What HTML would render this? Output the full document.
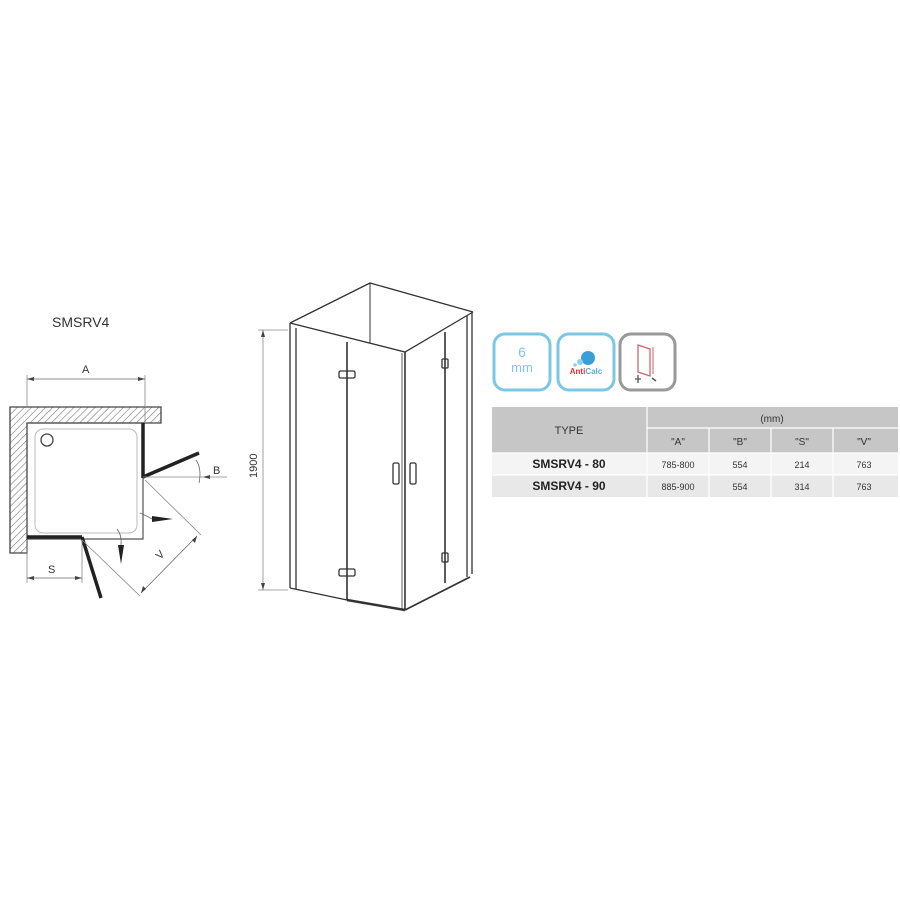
<!DOCTYPE html>
<html><head><meta charset="utf-8"><style>
html,body{margin:0;padding:0;background:#fff;}
svg{display:block}
text{font-family:"Liberation Sans",Arial,sans-serif;}
</style></head><body>
<svg width="900" height="900" viewBox="0 0 900 900" xmlns="http://www.w3.org/2000/svg">
<defs>
<pattern id="h" width="5" height="5" patternUnits="userSpaceOnUse" patternTransform="rotate(45)">
<rect width="5" height="5" fill="#fff"/><line x1="0" y1="0" x2="0" y2="5" stroke="#777" stroke-width="1.2"/>
</pattern>
</defs>
<text x="52" y="327" font-size="14" fill="#333">SMSRV4</text>
<path d="M10 407 H161 V423 H27 V553 H10 Z" fill="url(#h)" stroke="#444" stroke-width="1.3"/>
<path d="M27 423 H143 V539 H27" fill="none" stroke="#555" stroke-width="1.2"/>
<rect x="35" y="429" width="102" height="104" rx="8" fill="none" stroke="#bbb" stroke-width="1"/>
<circle cx="47" cy="440" r="6" fill="none" stroke="#444" stroke-width="1.3"/>
<line x1="143" y1="423" x2="143" y2="478" stroke="#222" stroke-width="3.5"/>
<line x1="143" y1="477" x2="199" y2="453" stroke="#222" stroke-width="3.5"/>
<line x1="27" y1="537" x2="82" y2="537" stroke="#222" stroke-width="3.5"/>
<line x1="82" y1="537" x2="101" y2="598" stroke="#222" stroke-width="3.5"/>
<line x1="27" y1="375" x2="27" y2="407" stroke="#888" stroke-width="0.8"/>
<line x1="145" y1="375" x2="145" y2="423" stroke="#888" stroke-width="0.8"/>
<line x1="27" y1="379" x2="145" y2="379" stroke="#666" stroke-width="0.8"/>
<path d="M27 379 l7 -2 v4 Z M145 379 l-7 -2 v4 Z" fill="#444"/>
<text x="82" y="373" font-size="11" fill="#333">A</text>
<line x1="27" y1="540" x2="27" y2="583" stroke="#888" stroke-width="0.8"/>
<line x1="82" y1="540" x2="82" y2="583" stroke="#888" stroke-width="0.8"/>
<line x1="27" y1="578" x2="82" y2="578" stroke="#666" stroke-width="0.8"/>
<path d="M27 578 l7 -2 v4 Z M82 578 l-7 -2 v4 Z" fill="#444"/>
<text x="48" y="573" font-size="11" fill="#333">S</text>
<line x1="143" y1="477" x2="227" y2="477" stroke="#888" stroke-width="0.8"/>
<path d="M196 460 Q202 469 199 483" fill="none" stroke="#666" stroke-width="0.8"/>
<path d="M203 477 l7 -2 v4 Z" fill="#444"/>
<text x="213" y="474" font-size="11" fill="#333">B</text>
<line x1="145" y1="480" x2="201" y2="535" stroke="#888" stroke-width="0.8"/>
<line x1="82" y1="540" x2="140" y2="596" stroke="#888" stroke-width="0.8"/>
<line x1="141" y1="593" x2="197" y2="536" stroke="#666" stroke-width="0.8"/>
<path d="M197 536 l-2 7 l-3 -3 Z M141 593 l2 -7 l3 3 Z" fill="#444"/>
<text x="0" y="0" font-size="11" fill="#333" transform="translate(160,560) rotate(-45)">V</text>
<path d="M140 513 Q147 516 152 519" fill="none" stroke="#666" stroke-width="0.8"/>
<path d="M152 516 L173 519 L152 522 Z" fill="#222"/>
<path d="M117 529 Q122 535 121 545" fill="none" stroke="#666" stroke-width="0.8"/>
<path d="M118 545 L121 564 L124 545 Z" fill="#222"/>
<g fill="none" stroke="#333" stroke-width="1.3">
<path d="M290 323 L370 283 L473 312"/>
<line x1="370" y1="283" x2="370" y2="343" stroke-width="1"/>
<path d="M290 323 L405 352 L473 312"/>
<line x1="290" y1="323" x2="290" y2="588"/>
<line x1="296" y1="328" x2="296" y2="589"/>
<line x1="347" y1="342" x2="347" y2="600" stroke-width="1.6"/>
<line x1="290" y1="588" x2="347" y2="600"/>
<line x1="347" y1="600" x2="405" y2="610" stroke-width="2.5"/>
<line x1="405" y1="352" x2="405" y2="610" stroke-width="1.6"/>
<line x1="402" y1="353" x2="402" y2="609" stroke-width="0.8"/>
<line x1="405" y1="610" x2="470" y2="577" stroke-width="1.8"/>
<line x1="445" y1="332" x2="445" y2="583" stroke-width="1.6"/>
<line x1="467" y1="316" x2="467" y2="577"/>
<line x1="472" y1="313" x2="472" y2="574"/>
<rect x="339" y="371" width="16" height="7" rx="1.5"/>
<rect x="339" y="569" width="16" height="7" rx="1.5"/>
<rect x="393" y="463" width="6" height="21" rx="1.5"/>
<rect x="410" y="463" width="6" height="21" rx="1.5"/>
<rect x="442" y="359" width="6" height="9" rx="1"/>
<rect x="442" y="553" width="6" height="9" rx="1"/>
</g>
<g stroke="#888" stroke-width="0.8">
<line x1="263" y1="330" x2="263" y2="590"/>
<line x1="258" y1="330" x2="288" y2="330"/>
<line x1="258" y1="590" x2="288" y2="590"/>
</g>
<path d="M263 330 l-2 7 h4 Z M263 590 l-2 -7 h4 Z" fill="#444"/>
<text x="0" y="0" font-size="11" fill="#333" transform="translate(257,478) rotate(-90)">1900</text>
<rect x="494" y="334" width="56" height="56" rx="11" fill="#fff" stroke="#7cc8e4" stroke-width="3"/>
<text x="522" y="357" font-size="14" fill="#7cc8e4" text-anchor="middle">6</text>
<text x="522" y="372" font-size="13" fill="#7cc8e4" text-anchor="middle">mm</text>
<rect x="558" y="334" width="56" height="56" rx="11" fill="#fff" stroke="#7cc8e4" stroke-width="3"/>
<circle cx="588" cy="358" r="7" fill="#3a9fd8"/><circle cx="580" cy="362" r="3" fill="#8fd0ef"/><circle cx="575" cy="365" r="1.8" fill="#8fd0ef"/>
<text x="586" y="374" font-size="8" font-weight="bold" text-anchor="middle"><tspan fill="#d33">Anti</tspan><tspan fill="#5aa9d6">Calc</tspan></text>
<rect x="620" y="334" width="55" height="56" rx="11" fill="#fff" stroke="#999" stroke-width="3"/>
<path d="M638 345 L650 349 V376 L638 372 Z" fill="none" stroke="#c66" stroke-width="1.3"/>
<line x1="653" y1="347" x2="653" y2="374" stroke="#c66" stroke-width="1"/>
<path d="M638 375 v8 M635 379 h6" stroke="#555" stroke-width="1.3"/>
<path d="M652 378 l4 3" stroke="#555" stroke-width="1.5"/>
<rect x="492" y="407" width="406" height="46" fill="#c6c6c6"/>
<rect x="492" y="453" width="406" height="22" fill="#f4f4f4"/>
<rect x="492" y="475" width="406" height="22" fill="#e8e8e8"/>
<g stroke="#fff" stroke-width="1.2">
<line x1="647" y1="407" x2="647" y2="497"/>
<line x1="647" y1="428" x2="898" y2="428"/>
<line x1="492" y1="453" x2="898" y2="453"/>
<line x1="492" y1="475" x2="898" y2="475"/>
<line x1="709" y1="428" x2="709" y2="497"/>
<line x1="771" y1="428" x2="771" y2="497"/>
<line x1="833" y1="428" x2="833" y2="497"/>
</g>
<g font-size="11" fill="#333" text-anchor="middle">
<text x="569" y="434">TYPE</text>
<text x="772" y="422" font-size="10">(mm)</text>
<text x="678" y="445" font-size="10">"A"</text>
<text x="740" y="445" font-size="10">"B"</text>
<text x="802" y="445" font-size="10">"S"</text>
<text x="864" y="445" font-size="10">"V"</text>
<text x="569" y="468" font-weight="bold" font-size="12" fill="#222">SMSRV4 - 80</text>
<text x="569" y="490" font-weight="bold" font-size="12" fill="#222">SMSRV4 - 90</text>
<g font-size="9">
<text x="678" y="468">785-800</text><text x="740" y="468">554</text><text x="802" y="468">214</text><text x="864" y="468">763</text>
<text x="678" y="490">885-900</text><text x="740" y="490">554</text><text x="802" y="490">314</text><text x="864" y="490">763</text>
</g>
</g>
</svg>
</body></html>
